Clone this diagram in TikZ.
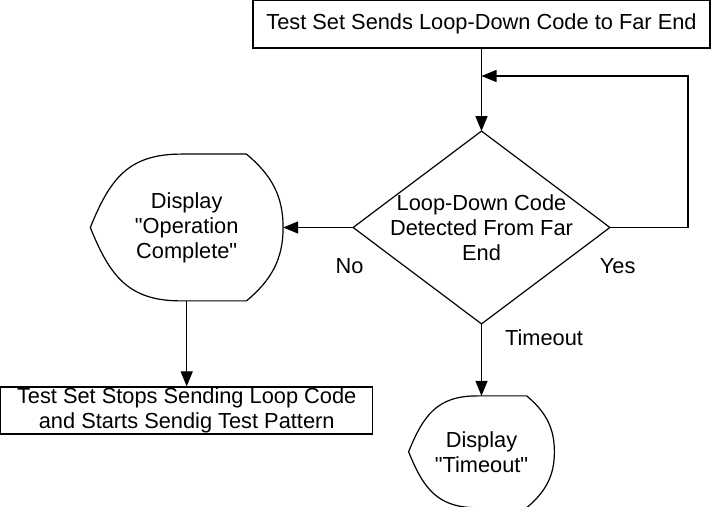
\documentclass[tikz,border=0pt]{standalone}
\usepackage{fontspec}
\setmainfont{Liberation Sans}
\usetikzlibrary{arrows.meta, positioning, calc}

\begin{document}
\begin{tikzpicture}[
    x=0.5pt, y=-0.5pt,
    box/.style={
        draw,
        align=center,
        inner xsep=2pt,
        inner ysep=0.3pt,
        font={\fontsize{10.9pt}{12.5pt}\selectfont},
        line width=0.6pt
    },
    decision/.style={
        align=center,
        inner sep=0pt,
        minimum width=128pt,
        minimum height=96pt,
        font={\fontsize{10.9pt}{12.5pt}\selectfont},
        append after command={
            \pgfextra{
                \draw[line width=0.6pt] (\tikzlastnode.north) -- (\tikzlastnode.east)
                    -- (\tikzlastnode.south) -- (\tikzlastnode.west) -- cycle;
            }
        }
    },
    display/.style={
        align=center,
        inner sep=0pt,
        font={\fontsize{10.9pt}{12.5pt}\selectfont},
        append after command={
            \pgfextra{
                \draw[line width=0.6pt]
                    ($(\tikzlastnode.north west)!0.47!(\tikzlastnode.north east)$)
                    -- ($(\tikzlastnode.north west)!0.81!(\tikzlastnode.north east)$)
                    to[out=-40, in=90] (\tikzlastnode.east)
                    to[out=-90, in=40] ($(\tikzlastnode.south west)!0.81!(\tikzlastnode.south east)$)
                    -- ($(\tikzlastnode.south west)!0.47!(\tikzlastnode.south east)$)
                    to[out=180, in=-68, looseness=1.15] (\tikzlastnode.west)
                    to[out=68, in=180, looseness=1.15] ($(\tikzlastnode.north west)!0.47!(\tikzlastnode.north east)$)
                    -- cycle;
            }
        }
    },
    lbl/.style={
        inner sep=0pt,
        font={\fontsize{10.9pt}{12.5pt}\selectfont}
    },
    arrow/.style={
        ->,
        >={Triangle[length=7.5pt, width=6pt]},
        line width=0.6pt,
        draw=black
    }
]
\useasboundingbox (0,0) rectangle (712,507);

% Nodes
\node (dec) [decision] at (481.5,227.5) {Loop-Down Code\\Detected From Far\\End};
\node (send) [box, minimum width=228.5pt, minimum height=24pt, above=41.25pt of dec] {Test Set Sends Loop-Down Code to Far End};
\node (done) [display, minimum width=96pt, minimum height=73pt, left=35pt of dec] {Display\\\textquotedbl Operation\\Complete\textquotedbl};
\node (stop) [box, minimum width=186pt, minimum height=23.5pt, below=42.75pt of done] {Test Set Stops Sending Loop Code\\and Starts Sendig Test Pattern};
\node (tmo) [display, minimum width=72.5pt, minimum height=55.5pt, below=36pt of dec] {Display\\\textquotedbl Timeout\textquotedbl};
\coordinate (join) at (481.5,76);

% Paths
\draw [arrow] (send) -- (dec);
\draw [arrow] (dec.east) -- node[lbl, pos=0.1, below=15pt] {Yes} ++(78,0) |- (join);
\draw [arrow] (dec.west) -- node[lbl, pos=0.05, below=15pt] {No} (done.east);
\draw [arrow] (done) -- (stop);
\draw [arrow] (dec) -- node[lbl, pos=0.19, right=11.5pt] {Timeout} (tmo);

\end{tikzpicture}
\end{document}
